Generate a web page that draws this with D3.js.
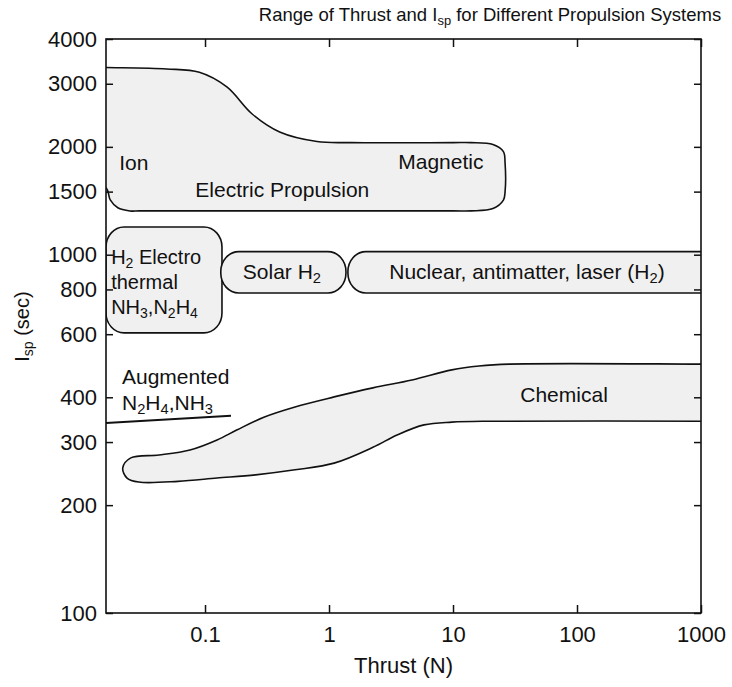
<!DOCTYPE html>
<html>
<head>
<meta charset="utf-8">
<script src="https://cdn.jsdelivr.net/npm/d3@7"></script>
<style>
body{margin:0;background:#fff;}
text{font-family:"Liberation Sans",Arial,Helvetica,sans-serif;fill:#111;}
</style>
</head>
<body>
<div id="canvas"></div>
<script>
// axis ticks
var thrustTicks = [0.1, 1, 10, 100, 1000];
var ispTicks = [100, 200, 300, 400, 600, 800, 1000, 1500, 2000, 3000, 4000];

// outlines as [thrust (N), Isp (s)]
// (points past the frame get clipped)
var electricOutline = [
  [0.010, 3340], [0.0159, 3330], [0.049, 3300], [0.09, 3230], [0.15, 2940],
  [0.24, 2470], [0.40, 2200], [0.8, 2070], [1.5, 2055], [10, 2055], [14, 2055],
  [21, 2030], [25.5, 1940], [26.3, 1800], [26.3, 1500], [25.5, 1420], [21, 1345], [14, 1325],
  [10, 1325], [0.03, 1325], [0.0248, 1325], [0.0198, 1352], [0.0172, 1423], [0.0159, 1538], [0.010, 1600]
];
var chemicalOutline = [
  [0.0217, 254], [0.0252, 271], [0.0425, 276], [0.0756, 285], [0.125, 304],
  [0.18, 324], [0.298, 352], [0.532, 376], [1.1, 401], [2.26, 425],
  [4.67, 447], [9.78, 477], [16.2, 489], [28.5, 495], [1200, 495], [3000, 495],
  [3000, 343], [1200, 343], [20.2, 343], [9.78, 341], [5.84, 335], [3.54, 314],
  [2.26, 290], [1.1, 262], [0.532, 251], [0.256, 243], [0.125, 238],
  [0.0605, 233], [0.0292, 232], [0.0235, 238]
];
var augmentedLine = [[0.0159, 339], [0.162, 355]];

// rounded boxes
var boxNames = ['electrothermal', 'solar', 'nuclear'];
var boxThrustMin = [0.0159, 0.134, 1.42];
var boxThrustMax = [0.137, 1.37, 3000];
var boxIspMin = [605, 782, 782];
var boxIspMax = [1195, 1020, 1020];

// annotations, _{..} = subscript
var labelTexts = ['Ion', 'Magnetic', 'Electric Propulsion', 'H_{2} Electro', 'thermal',
  'NH_{3},N_{2}H_{4}', 'Solar H_{2}', 'Nuclear, antimatter, laser (H_{2})',
  'Augmented', 'N_{2}H_{4},NH_{3}', 'Chemical'];
var labelThrust = [0.0203, 7.98, 0.42, 0.0175, 0.0175, 0.0175, 0.417, 39.5, 0.0214, 0.0214, 78.6];
var labelIsp = [1803, 1814, 1516, 985, 839, 714, 895, 895, 456, 385, 406];
var labelAnchor = ['start', 'middle', 'middle', 'start', 'start', 'start', 'middle', 'middle', 'start', 'start', 'middle'];

var W = 732, H = 687;
var m = {t:39, r:31, b:74, l:106};
var w = W - m.l - m.r,
    h = H - m.t - m.b;

var svg = d3.select('#canvas').append('svg')
    .attr('width', W)
    .attr('height', H);

var plot = svg.append('g')
    .attr('transform', 'translate(' + m.l + ',' + m.t + ')');

var x = d3.scaleLog().domain([0.0159, 1000]).range([0, w]);
var y = d3.scaleLog().domain([100, 4000]).range([h, 0]);

svg.append('defs').append('clipPath').attr('id', 'clip')
  .append('rect').attr('width', w).attr('height', h);

var shapes = plot.append('g').attr('clip-path', 'url(#clip)');

var outline = d3.line()
    .x(function(d){ return x(d[0]); })
    .y(function(d){ return y(d[1]); })
    .curve(d3.curveCatmullRomClosed.alpha(0.5));

[electricOutline, chemicalOutline].forEach(function(pts){
  shapes.append('path')
    .attr('d', outline(pts))
    .attr('fill', '#f0f0f0')
    .attr('stroke', '#111')
    .attr('stroke-width', 1.6);
});

boxNames.forEach(function(name, i){
  var x0 = x(boxThrustMin[i]), x1 = x(boxThrustMax[i]),
      y0 = y(boxIspMax[i]), y1 = y(boxIspMin[i]);
  shapes.append('rect')
    .attr('class', 'box ' + name)
    .attr('x', x0).attr('y', y0)
    .attr('width', x1 - x0).attr('height', y1 - y0)
    .attr('rx', 18).attr('ry', Math.min(20, (y1 - y0) / 2))
    .attr('fill', '#f0f0f0')
    .attr('stroke', '#111')
    .attr('stroke-width', 1.6);
});

shapes.append('path')
  .attr('d', d3.line().x(function(d){ return x(d[0]); }).y(function(d){ return y(d[1]); })(augmentedLine))
  .attr('fill', 'none')
  .attr('stroke', '#111')
  .attr('stroke-width', 2);

// text with subscripts
function richText(sel, str, size){
  var parts = str.split(/(_\{[^}]*\})/).filter(function(s){ return s.length; });
  var shift = 0, drop = Math.round(size * 0.2);
  parts.forEach(function(p){
    var t = sel.append('tspan');
    if (p.indexOf('_{') === 0) {
      t.text(p.slice(2, -1)).attr('font-size', size * 0.7).attr('dy', drop - shift);
      shift = drop;
    } else {
      t.text(p).attr('dy', -shift);
      shift = 0;
    }
  });
}

labelTexts.forEach(function(s, i){
  var size = labelAnchor[i] === 'start' && labelThrust[i] < 0.02 && labelIsp[i] < 1000 ? 20 : 21;
  var t = plot.append('text')
    .attr('x', x(labelThrust[i]))
    .attr('y', y(labelIsp[i]) + 7)
    .attr('text-anchor', labelAnchor[i])
    .attr('font-size', size);
  richText(t, s, size);
});

// axes, ticks pointing inward on all four sides
var fmtThrust = function(d){ return d < 1 ? d3.format('.1f')(d) : d3.format('d')(d); };

function styleAxis(g, size){
  g.select('.domain').remove();
  g.selectAll('line').attr('stroke', '#111').attr('stroke-width', 1.5);
  g.attr('font-size', size);
  g.selectAll('text').attr('fill', '#111');
}

plot.append('g')
  .attr('transform', 'translate(0,' + h + ')')
  .call(d3.axisBottom(x).tickValues(thrustTicks).tickFormat(fmtThrust)
    .tickSizeInner(-8).tickSizeOuter(0).tickPadding(13))
  .call(styleAxis, 22);

plot.append('g')
  .call(d3.axisTop(x).tickValues(thrustTicks).tickFormat('')
    .tickSizeInner(-8).tickSizeOuter(0))
  .call(styleAxis, 22);

plot.append('g')
  .call(d3.axisLeft(y).tickValues(ispTicks).tickFormat(d3.format('d'))
    .tickSizeInner(-7).tickSizeOuter(0).tickPadding(9))
  .call(styleAxis, 22);

plot.append('g')
  .attr('transform', 'translate(' + w + ',0)')
  .call(d3.axisRight(y).tickValues(ispTicks).tickFormat('')
    .tickSizeInner(-7).tickSizeOuter(0))
  .call(styleAxis, 22);

plot.append('rect')
  .attr('width', w).attr('height', h)
  .attr('fill', 'none')
  .attr('stroke', '#111')
  .attr('stroke-width', 1.6);

// titles
var title = svg.append('text')
  .attr('x', 490).attr('y', 21)
  .attr('text-anchor', 'middle')
  .attr('font-size', 18.5);
richText(title, 'Range of Thrust and I_{sp} for Different Propulsion Systems', 18.5);

var xTitle = svg.append('text')
  .attr('x', m.l + w / 2).attr('y', 673)
  .attr('text-anchor', 'middle')
  .attr('font-size', 22)
  .text('Thrust (N)');

var yTitle = svg.append('text')
  .attr('transform', 'translate(29,' + (m.t + y(630)) + ') rotate(-90)')
  .attr('text-anchor', 'middle')
  .attr('font-size', 20);
richText(yTitle, 'I_{sp} (sec)', 20);
</script>
</body>
</html>
